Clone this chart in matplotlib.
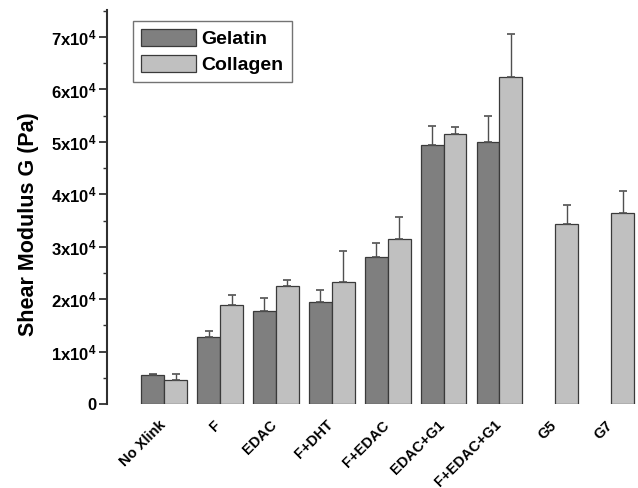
import numpy as np
import matplotlib
matplotlib.use('Agg')
import matplotlib.pyplot as plt
import matplotlib.transforms as mtransforms
from matplotlib.ticker import MultipleLocator, FixedLocator

plt.rcParams['font.family'] = ['Liberation Sans', 'DejaVu Sans']
plt.rcParams['font.weight'] = 'bold'
plt.rcParams['mathtext.fontset'] = 'custom'
plt.rcParams['mathtext.bf'] = 'Liberation Sans:bold'
plt.rcParams['mathtext.rm'] = 'Liberation Sans:bold'
plt.rcParams['mathtext.default'] = 'bf'

# Dados
categorias = ['No Xlink', 'F', 'EDAC', 'F+DHT', 'F+EDAC', 'EDAC+G1', 'F+EDAC+G1', 'G5', 'G7']
gelatina = [5500, 12800, 17700, 19400, 28000, 49400, 49900, np.nan, np.nan]
gelatina_err = [150, 1200, 2600, 2400, 2700, 3700, 5100, np.nan, np.nan]
colageno = [4600, 18900, 22500, 23200, 31400, 51600, 62300, 34300, 36400]
colageno_err = [1100, 1900, 1200, 5900, 4300, 1300, 8200, 3700, 4200]

cor_gel = '#7f7f7f'
cor_col = '#c0c0c0'
cor_borda = '#3a3a3a'

fig = plt.figure(figsize=(6.38, 4.88), dpi=100)
ax = fig.add_axes([0.168, 0.172, 0.832, 0.808])

x = np.arange(len(categorias))
w = 0.41
err_kw = dict(ecolor='#505050', elinewidth=1.0, capsize=3, capthick=1.2)

ax.bar(x - w / 2, gelatina, w, color=cor_gel, edgecolor=cor_borda, linewidth=0.9,
       yerr=[np.zeros(len(x)), gelatina_err], error_kw=err_kw, label='Gelatin')
ax.bar(x + w / 2, colageno, w, color=cor_col, edgecolor=cor_borda, linewidth=0.9,
       yerr=[np.zeros(len(x)), colageno_err], error_kw=err_kw, label='Collagen')

ax.set_xlim(-1.02, 8.48)
ax.set_ylim(0, 75200)

# Eixos
for s in ['top', 'right', 'bottom']:
    ax.spines[s].set_visible(False)
ax.spines['left'].set_linewidth(1.5)
ax.spines['left'].set_color('#303030')

ax.yaxis.set_major_locator(FixedLocator(np.arange(0, 70001, 10000)))
ax.yaxis.set_minor_locator(MultipleLocator(5000))
ylabels = ['0'] + [r'%dx10$^{4}$' % i for i in range(1, 8)]
ax.set_yticklabels(ylabels, fontsize=12, fontweight='bold')
ax.tick_params(axis='y', which='major', direction='out', length=6, width=1.3,
               color='#303030', pad=2)
ax.tick_params(axis='y', which='minor', direction='out', length=3, width=1.0, color='#303030')

ax.set_xticks(x)
ax.set_xticklabels(categorias, rotation=45, ha='right', rotation_mode='anchor',
                   fontsize=10.5, fontweight='bold')
ax.tick_params(axis='x', length=0, pad=10)
desloc = mtransforms.ScaledTranslation(-6 / 100, 0, fig.dpi_scale_trans)
for lbl in ax.get_xticklabels():
    lbl.set_transform(lbl.get_transform() + desloc)

ax.set_ylabel('Shear Modulus G (Pa)', fontsize=15.5, fontweight='bold')
ax.yaxis.set_label_coords(-0.128, 0.457)

leg = ax.legend(loc='upper left', bbox_to_anchor=(0.049, 0.972), fontsize=14,
                frameon=True, fancybox=False, edgecolor='#505050', handlelength=2.8,
                handleheight=0.95, handletextpad=0.3, borderpad=0.42, labelspacing=0.35,
                borderaxespad=0)
leg.get_frame().set_linewidth(1.0)
for t in leg.get_texts():
    t.set_fontweight('bold')

plt.savefig('out.png', dpi=100)
